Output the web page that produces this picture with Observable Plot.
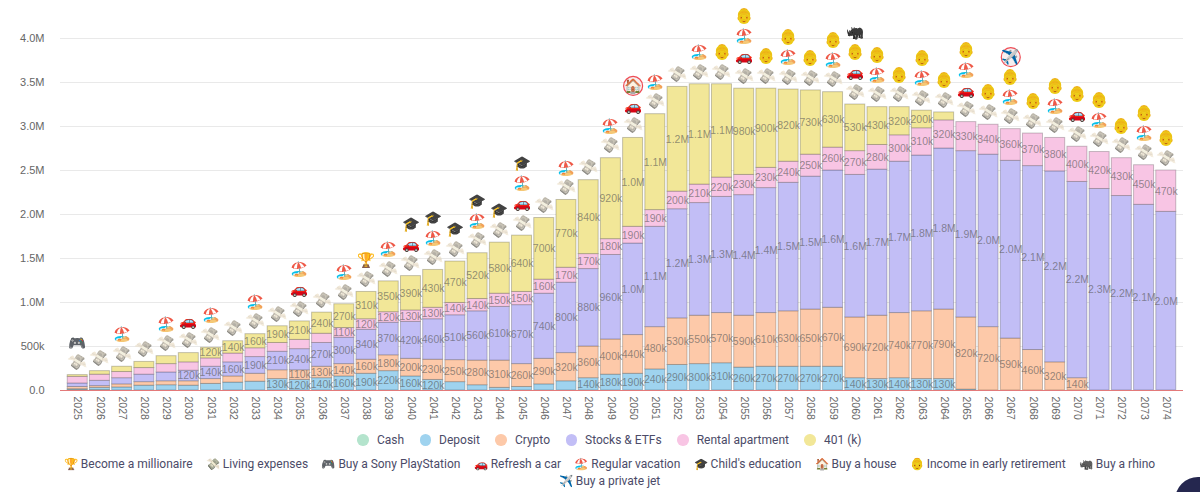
<!DOCTYPE html>
<html>
<head>
<meta charset="utf-8">
<script src="https://cdn.jsdelivr.net/npm/d3@7"></script>
<script src="https://cdn.jsdelivr.net/npm/@observablehq/plot@0.6"></script>
<style>
html,body{margin:0;padding:0;background:#fff;overflow:hidden;width:1200px;height:492px;position:relative}
#chart svg{display:block;overflow:visible}
.row{display:flex;justify-content:center;align-items:center;font:12px Roboto,sans-serif;color:#4b4b68;white-space:nowrap;padding-left:19px}
#assets{height:20px;margin-top:2px;gap:15.5px}
#assets i{display:inline-block;width:11.5px;height:11.5px;border-radius:50%;margin-right:8px;vertical-align:-1.5px}
#goals1{height:17px;margin-top:5px;gap:13.3px}
#goals2{height:17px;margin-top:0}
#bubble{position:absolute;left:1175px;top:477px;width:46px;height:46px;border-radius:50%;background:#25274f}
.ic{font-size:11.5px}
.bill, .bill text{filter:grayscale(.75) sepia(.4) brightness(.92) opacity(.8)}
.gold, .gold text{filter:sepia(1) saturate(4) hue-rotate(-6deg) brightness(.93)}
.dark, .dark text{filter:grayscale(1) brightness(.62)}
</style>
</head>
<body>
<div id="chart"></div>
<div id="assets" class="row"></div>
<div id="goals1" class="row"></div>
<div id="goals2" class="row"></div>
<div id="bubble"></div>
<script>
const years = d3.range(2025, 2075);
const cash = [5,5,0,0,0,0,0,0,0,0,0,0,0,0,0,0,0,0,0,0,0,0,0,0,0,0,0,0,0,0,0,0,0,0,0,0,0,0,0,0,0,0,0,0,0,0,0,0,0,0];
const deposit = [10,25,35,55,60,55,75,90,100,130,120,140,160,190,220,160,120,95,60,30,40,70,105,140,180,190,240,290,300,310,260,270,270,270,270,140,130,140,130,130,10,0,0,0,0,0,0,0,0,0];
const crypto = [25,20,35,40,45,50,55,70,90,100,110,130,140,160,180,200,230,250,280,310,260,290,320,360,400,440,480,530,550,570,590,610,630,650,670,690,720,740,770,790,820,720,590,460,320,140,0,0,0,0];
const stocks = [40,60,70,85,100,120,140,160,190,210,240,270,300,340,370,420,460,510,560,610,670,740,800,880,960,1040,1140,1240,1280,1320,1370,1420,1460,1510,1560,1620,1660,1720,1770,1830,1890,1960,2020,2090,2170,2230,2290,2210,2110,2030];
const rental = [75,70,70,75,95,95,95,100,100,100,105,105,110,120,120,130,130,140,140,150,150,160,170,170,180,190,190,200,210,220,230,230,240,250,260,270,280,300,310,320,330,340,360,370,380,400,420,430,450,470];
const k401 = [20,40,60,70,90,105,120,140,160,190,210,240,270,310,350,390,430,470,520,580,640,700,770,840,920,1010,1090,1190,1140,1060,980,900,820,730,630,530,430,320,200,90,0,0,0,0,0,0,0,0,0,0];

const seriesNames = ["Cash","Deposit","Crypto","Stocks & ETFs","Rental apartment","401 (k)"];
const seriesValues = [cash,deposit,crypto,stocks,rental,k401];
const seriesColors = ["#b4e4cd","#9fd3ef","#fdc9a9","#c2bef6","#f8c5e4","#f2e798"];

const goalNames = ["Become a millionaire","Living expenses","Buy a Sony PlayStation","Refresh a car","Regular vacation","Child's education","Buy a house","Income in early retirement","Buy a rhino","Buy a private jet"];
const goalIcons = ["🏆","💸","🎮","🚗","🏖️","🎓","🏠","👵","🦏","✈️"];
const stackOrder = ["🎮","🏆","🚗","🏖️","🎓","🏠","👵","🦏","✈️"];
const playstationYears = [2025];
const millionaireYears = [2038];
const carYears = [2030,2035,2040,2045,2050,2055,2060,2065,2070];
const vacationYears = [2027,2029,2031,2033,2035,2037,2039,2041,2043,2045,2047,2049,2051,2053,2055,2057,2059,2061,2063,2065,2067,2069,2071,2073];
const educationYears = [2040,2041,2042,2043,2044,2045];
const houseYears = [2050];
const retirementYears = d3.range(2054,2075);
const rhinoYears = [2060];
const jetYears = [2067];
const circledYears = {"🏠":2050,"✈️":2067};
const eventYears = {"🎮":playstationYears,"🏆":millionaireYears,"🚗":carYears,"🏖️":vacationYears,"🎓":educationYears,"🏠":houseYears,"👵":retirementYears,"🦏":rhinoYears,"✈️":jetYears};
const iconClass = {"💸":"bill","👵":"gold","🦏":"dark"};

const rows = [];
seriesNames.forEach((s,j)=>years.forEach((yr,i)=>rows.push({year:yr,series:s,value:seriesValues[j][i]*1000})));
const total = y => d3.sum(seriesValues, a=>a[y-2025])*1000;
const fmt = v => v>=1e6 ? (v/1e6).toFixed(1)+"M" : v>=1e3 ? Math.round(v/1e3)+"k" : "0.0";
const label = v => v<110000 ? "" : v>=1e6 ? (v/1e6).toFixed(1)+"M" : Math.round(v/1e4)*10+"k";

const events = [];
years.forEach(yr=>{
  const seq = ["💸"].concat(stackOrder.filter(e=>eventYears[e].includes(yr)));
  seq.forEach((e,k)=>events.push({year:yr,icon:e,k,total:total(yr),circled:circledYears[e]===yr}));
});

const iconFont = "'Noto Color Emoji','Apple Color Emoji','Segoe UI Emoji',sans-serif";
const iconMarks = [];
d3.range(0,5).forEach(k=>{
  goalIcons.forEach(ic=>{
    const sub = events.filter(d=>d.k===k&&d.icon===ic);
    if(sub.length) iconMarks.push(Plot.text(sub,{x:"year",y:"total",text:"icon",dy:-12-20*k,fontSize:ic==="💸"?15:14.5,rotate:ic==="💸"?-12:0,fontFamily:iconFont,className:iconClass[ic]||undefined}));
  });
});
const ringMarks = d3.range(0,5).map(k=>Plot.dot(events.filter(d=>d.k===k&&d.circled),{x:"year",y:"total",r:9.5,dy:-12-20*k,fill:"#f6eef0",stroke:"#ee4c55",strokeWidth:1.2}));

const plot = Plot.plot({
  width:1200,height:428,marginTop:38,marginBottom:38,marginLeft:60,marginRight:17,
  style:{fontFamily:"'Liberation Sans',Helvetica,Arial,sans-serif",background:"#fff",overflow:"visible"},
  x:{type:"band",domain:years,insetLeft:5,insetRight:5,padding:0.1,round:false,label:null},
  y:{domain:[0,4e6],label:null},
  color:{domain:seriesNames,range:seriesColors},
  marks:[
    Plot.gridY([500000,1000000,1500000,2000000,2500000,3000000,3500000,4000000],{stroke:"#e9e9e9",strokeOpacity:1,strokeWidth:1}),
    Plot.axisY([0,500000,1000000,1500000,2000000,2500000,3000000,3500000,4000000],{tickFormat:fmt,tickSize:0,tickPadding:16,fontSize:11,color:"#666",label:null}),
    Plot.axisX({tickRotate:90,tickSize:0,tickPadding:6,fontSize:10.5,color:"#666",tickFormat:d=>String(d),label:null}),
    Plot.barY(rows,Plot.stackY({order:null,x:"year",y:"value",fill:"series",stroke:"#000",strokeOpacity:0.22,strokeWidth:1})),
    Plot.ruleY([0],{stroke:"#e37a7a",strokeWidth:1}),
    Plot.text(rows,Plot.stackY({order:null,x:"year",y:"value",text:d=>label(d.value),fontSize:10.5,fill:"#555",fillOpacity:0.62})),
    ...ringMarks,
    ...iconMarks
  ]
});
document.getElementById("chart").append(plot);

const assets=document.getElementById("assets");
seriesNames.forEach((s,i)=>{const sp=document.createElement("span");const c=document.createElement("i");c.style.background=seriesColors[i];sp.append(c,s);assets.append(sp);});
const g1=document.getElementById("goals1"),g2=document.getElementById("goals2");
goalNames.forEach((g,i)=>{
  const sp=document.createElement("span");
  const ic=document.createElement("span");
  ic.textContent=goalIcons[i];
  ic.className="ic "+(iconClass[goalIcons[i]]||"");
  ic.style.display="inline-block";
  sp.append(ic," "+g);
  (i<9?g1:g2).append(sp);
});
</script>
</body>
</html>
